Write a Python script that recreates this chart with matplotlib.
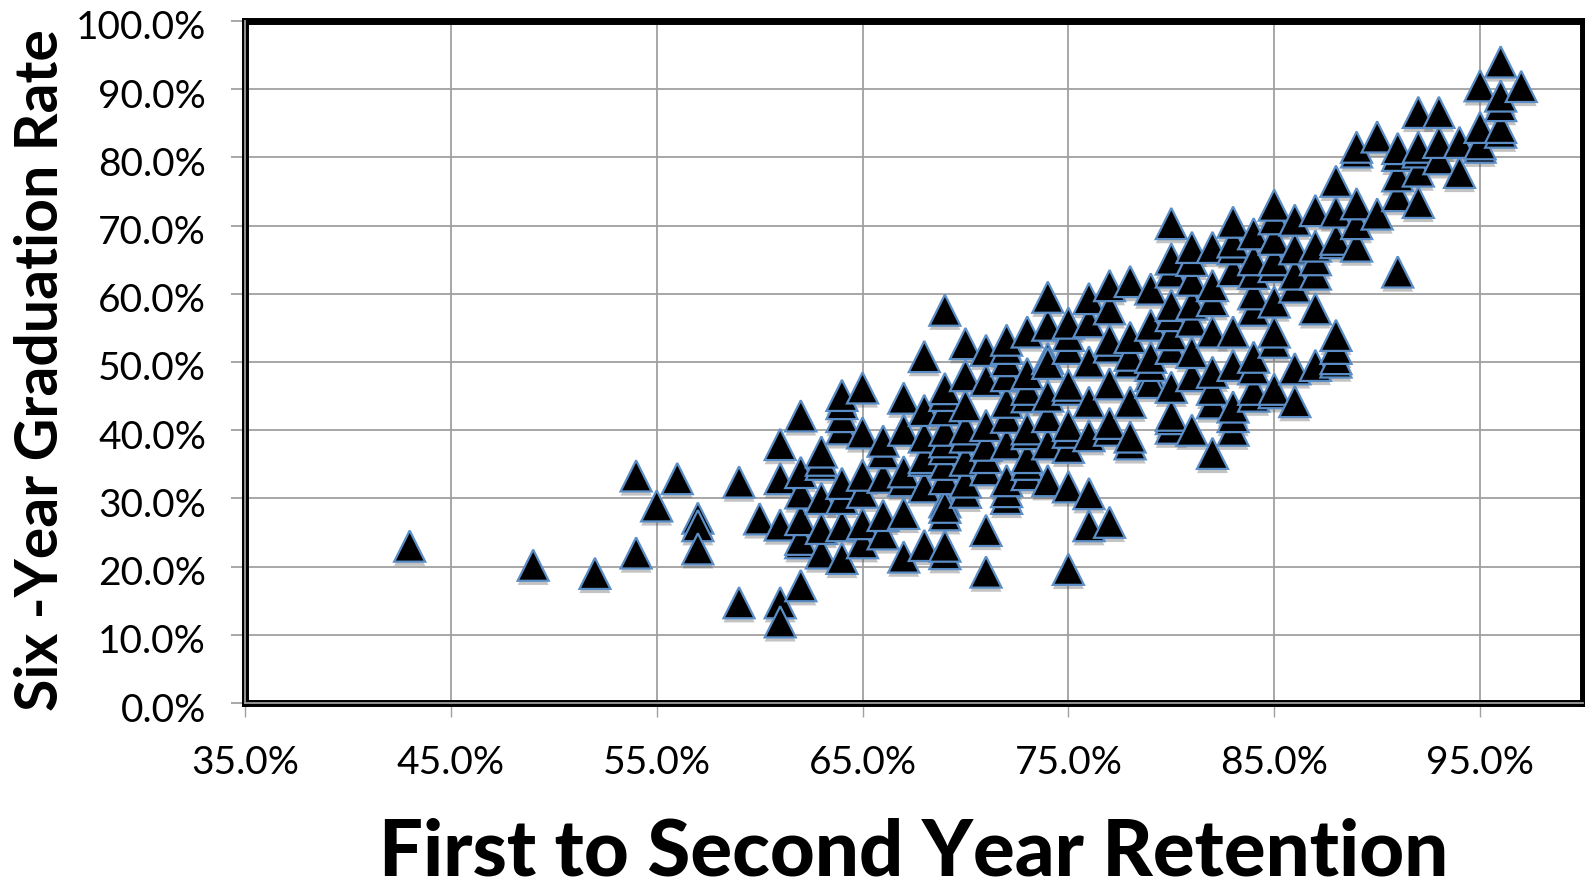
import matplotlib
matplotlib.use("Agg")
import matplotlib.pyplot as plt
import matplotlib.patheffects as pe
from matplotlib.ticker import FixedLocator, FuncFormatter
from matplotlib.transforms import ScaledTranslation

columns = {
 43: [23], 49: [20.2], 52: [19], 54: [33.3, 22], 55: [28.9], 56: [32.9],
 57: [22.6, 26, 27.1], 59: [32.4, 14.7], 60: [27],
 61: [11.9, 14.7, 26.1, 32.9, 37.9],
 62: [42.1, 33.8, 30.8, 26.9, 24, 23.5, 17.2],
 63: [36.8, 35.6, 35, 30, 25.6, 22],
 64: [45.1, 43.9, 42, 40.2, 32.2, 30, 26, 21.2],
 65: [46.2, 39.6, 33.4, 30.9, 26.3, 23.5],
 66: [38.4, 36.7, 33.1, 27.5, 24.8],
 67: [44.7, 40, 33.9, 32.6, 27.8, 21.4],
 68: [50.8, 42.9, 39, 36, 35.6, 31.7, 23.1],
 69: [57.6, 46.1, 45.1, 43, 40, 38.3, 37.3, 35, 32.9, 28.7, 27.6, 29.5, 23, 21.9],
 70: [52.7, 48, 43.6, 40.2, 39, 35.6, 32.4, 30.9],
 71: [51.7, 47.3, 40.7, 37.8, 36, 34.2, 25.3, 19.2],
 72: [53.2, 52, 50.2, 48, 44.1, 41.9, 38, 32.6, 31, 30],
 73: [54.4, 48.3, 46, 44.9, 40.2, 39.5, 36, 35, 33.5],
 74: [59.5, 55.4, 49.8, 50.5, 45, 42, 38, 32.6],
 75: [55.7, 53.9, 52, 46.6, 46, 40.7, 39.7, 37.5, 31.7, 19.6],
 76: [59.3, 55.9, 50, 44.1, 39.2, 30.7, 26],
 77: [61.2, 57.8, 53.2, 52.2, 46.8, 41, 40, 26.5],
 78: [61.8, 53.6, 51, 50, 44.1, 39, 38],
 79: [60.7, 55.4, 50.7, 49.5, 47, 48],
 80: [70.3, 65.1, 63.2, 58.3, 56.8, 54, 52, 46.3, 42.2, 41.7, 40.3],
 81: [66.8, 64.9, 62, 58.5, 56, 51.4, 48, 40],
 82: [66.8, 61.2, 59, 54.4, 48.5, 46, 44, 36.6],
 83: [70.5, 67.6, 66.6, 63.4, 54.4, 49.5, 43.4, 42, 40],
 84: [68.8, 65, 63, 60, 57.6, 50.7, 49, 46, 45],
 85: [73, 71, 68, 65, 64, 58.8, 54.4, 52.9, 46, 45.5],
 86: [70.8, 66.6, 62.9, 61, 49, 44.2],
 87: [72.2, 67, 65, 62.9, 57.8, 49.5],
 88: [76.5, 72, 68, 67.5, 53.9, 52, 50.5, 50],
 89: [81.5, 80.8, 73.2, 70.3, 67],
 90: [83, 71.7],
 91: [81.3, 80.3, 77.3, 74.4, 63.2],
 92: [86.6, 81.5, 80.8, 78, 73.4],
 93: [86.6, 82.2, 79.8],
 94: [82.2, 77.8],
 95: [90.5, 84.4, 82, 81.5],
 96: [94, 89, 87.6, 84.4, 83.7],
 97: [90.4],
}
retention = [x for x, ys in columns.items() for _ in ys]
graduation = [y for ys in columns.values() for y in reversed(ys)]
x_ticks = [35, 45, 55, 65, 75, 85, 95]
y_ticks = [0, 10, 20, 30, 40, 50, 60, 70, 80, 90, 100]
x_title = "First to Second Year Retention"
y_title = "Six -Year Graduation Rate"

W, H = 1585, 882
fig = plt.figure(figsize=(W / 100, H / 100), dpi=100)
plt.rcParams['font.family'] = ['Lato', 'DejaVu Sans']
ax = fig.add_axes([245 / W, 1 - 703 / H, (1583 - 245) / W, (703 - 21) / H])
ax.set_xlim(35, 100)
ax.set_ylim(0, 100)

GRID = '#a0a0a0'
ax.set_axisbelow(True)
ax.grid(True, color=GRID, lw=1.3)
for s in ax.spines.values():
    s.set_color('black')
    s.set_linewidth(5)
    s.set_zorder(1.5)
ax.xaxis.set_major_locator(FixedLocator(x_ticks))
ax.yaxis.set_major_locator(FixedLocator(y_ticks))
fmt = FuncFormatter(lambda v, _: f"{v:.1f}%")
ax.xaxis.set_major_formatter(fmt)
ax.yaxis.set_major_formatter(fmt)
ax.tick_params(axis='x', length=10, width=1, color=GRID, labelsize=28, pad=20, labelcolor='black')
ax.tick_params(axis='y', length=10, width=1.3, color=GRID, labelsize=28, pad=18, labelcolor='black')
for lab in ax.get_yticklabels():
    lab.set_transform(lab.get_transform() + ScaledTranslation(0, -4 / 100, fig.dpi_scale_trans))
# grey axis lines drawn over the black frame on the left and bottom
ax.axvline(35, color=GRID, lw=1.3, zorder=1.6, clip_on=False)
ax.axhline(0, color=GRID, lw=1.3, zorder=1.6, clip_on=False)

ax.scatter(retention, graduation, marker='^', s=500, c='black',
           edgecolors='#5b8ec6', linewidths=1.6, zorder=3, clip_on=False, joinstyle='miter',
           path_effects=[pe.SimplePatchShadow(offset=(0, -3), shadow_rgbFace='#555555', alpha=0.35), pe.Normal()])

fig.text(914 / W, 1 - 853 / H, x_title, ha='center', va='center', fontsize=56, fontweight='black')
fig.text(41 / W, 1 - 370 / H, y_title, ha='center', va='center', rotation=90, fontsize=42.5, fontweight='bold')

fig.savefig('out.png', dpi=100)
